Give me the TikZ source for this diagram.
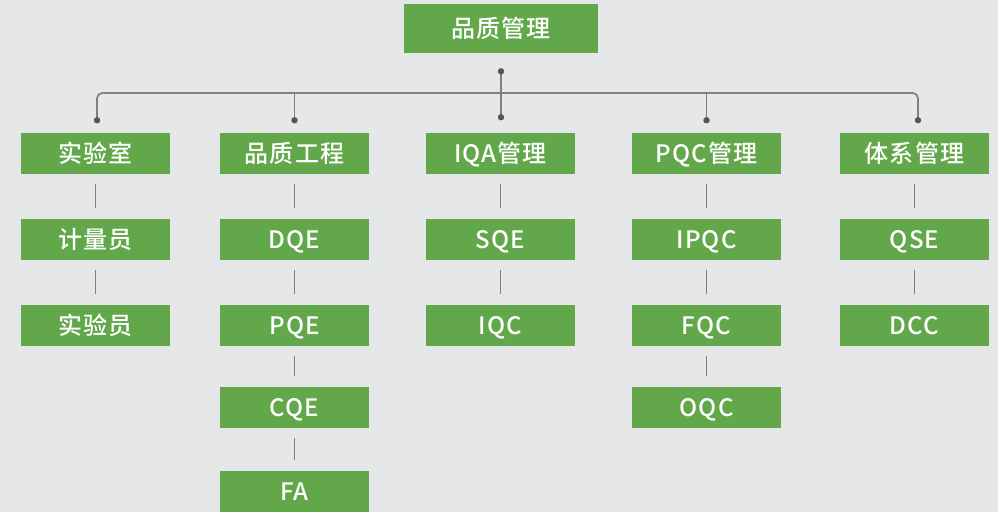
\documentclass[tikz,border=0pt]{standalone}
\usepackage{fontspec}
\newfontfamily\cjk[UprightFont=* Medium,LetterSpace=5]{Noto Sans CJK SC}
\usepackage{tikz}
\usetikzlibrary{calc}
\definecolor{boxgreen}{RGB}{98,168,74}
\definecolor{bggray}{RGB}{230,231,233}
\definecolor{linegray}{RGB}{128,128,128}
\definecolor{dotgray}{RGB}{85,85,85}

\begin{document}
\begin{tikzpicture}[x=0.75pt,y=-0.75pt,
        box/.style={fill=boxgreen,text=white,inner sep=0pt,minimum width=111.75pt,minimum height=30.75pt,
            text height=15.3pt,text depth=1.7pt,font=\cjk\fontsize{18}{18}\selectfont},
        link/.style={draw=linegray,line width=1.3pt},
        short/.style={shorten <=8pt,shorten >=8pt}]
    \fill[bggray] (0,0) rectangle (998,512);
    \useasboundingbox (0,0) rectangle (998,512);
    % top
    \draw (501,28.5) node[box,minimum width=145.5pt,minimum height=36.75pt,name=root] {品质管理};
    % columns
    \draw (95.5,153) node[box,name=lab] {实验室};
    \draw (95.5,239) node[box,name=meter] {计量员};
    \draw (95.5,325) node[box,name=tester] {实验员};
    \draw (294.5,153) node[box,name=qe] {品质工程};
    \draw (294.5,239) node[box,name=dqe] {DQE};
    \draw (294.5,325) node[box,name=pqe] {PQE};
    \draw (294.5,407) node[box,name=cqe] {CQE};
    \draw (294.5,491) node[box,name=fa] {FA};
    \draw (500.5,153) node[box,name=iqa] {IQA管理};
    \draw (500.5,239) node[box,name=sqe] {SQE};
    \draw (500.5,325) node[box,name=iqc] {IQC};
    \draw (706.5,153) node[box,name=pqc] {PQC管理};
    \draw (706.5,239) node[box,name=ipqc] {IPQC};
    \draw (706.5,325) node[box,name=fqc] {FQC};
    \draw (706.5,407) node[box,name=oqc] {OQC};
    \draw (914.5,153) node[box,name=sys] {体系管理};
    \draw (914.5,239) node[box,name=qse] {QSE};
    \draw (914.5,325) node[box,name=dcc] {DCC};
    % bus
    \coordinate (bus) at (0,93);
    \coordinate (r) at ($(root.south)+(0,18)$);
    \coordinate (d1) at ($(lab.north)+(1.5,-12)$);
    \coordinate (d2) at ($(qe.north)+(0,-12)$);
    \coordinate (d3) at ($(iqa.north)+(0.5,-15)$);
    \coordinate (d4) at ($(pqc.north)+(0,-12)$);
    \coordinate (d5) at ($(sys.north)+(3.5,-12)$);
    \draw[link,rounded corners=4pt] (d1) -- (d1 |- bus) -- (d5 |- bus) -- (d5);
    \draw[link] (d2 |- bus) -- (d2);
    \draw[link] (d4 |- bus) -- (d4);
    \draw[link] (r) -- (d3);
    \fill[dotgray] (r) circle (2.4pt) (d1) circle (2.4pt) (d2) circle (2.4pt)
        (d3) circle (2.4pt) (d4) circle (2.4pt) (d5) circle (2.4pt);
    % children
    \draw[link,short] (lab) -- (meter);
    \draw[link,short] (meter) -- (tester);
    \draw[link,short] (qe) -- (dqe);
    \draw[link,short] (dqe) -- (pqe);
    \draw[link,short] (pqe) -- (cqe);
    \draw[link,short] (cqe) -- (fa);
    \draw[link,short] (iqa) -- (sqe);
    \draw[link,short] (sqe) -- (iqc);
    \draw[link,short] (pqc) -- (ipqc);
    \draw[link,short] (ipqc) -- (fqc);
    \draw[link,short] (fqc) -- (oqc);
    \draw[link,short] (sys) -- (qse);
    \draw[link,short] (qse) -- (dcc);
\end{tikzpicture}
\end{document}
